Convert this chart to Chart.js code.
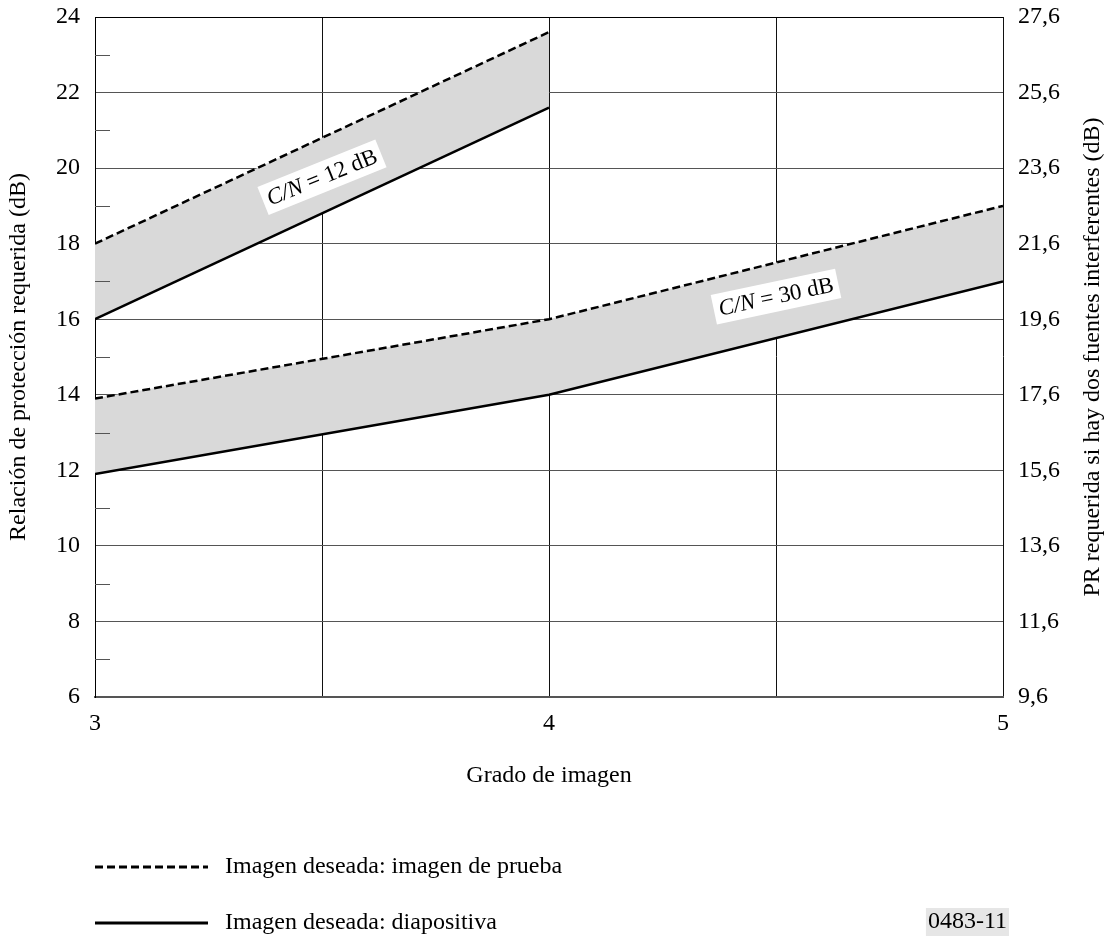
<!DOCTYPE html>
<html>
<head>
<meta charset="utf-8">
<script src="https://cdn.jsdelivr.net/npm/chart.js@4/dist/chart.umd.min.js"></script>
<style>
  html, body { margin: 0; padding: 0; background: #fff; }
  canvas { display: block; }
</style>
</head>
<body>
<canvas id="c" width="1112" height="936"></canvas>
<script>
// ---- data ----
const cn12X = [3, 4];
const cn12Dashed = [18, 23.6];
const cn12Solid = [16, 21.6];
const cn30X = [3, 4, 5];
const cn30Dashed = [13.9, 16, 19];
const cn30Solid = [11.9, 14, 17];
const xTickLabels = ['3', '4', '5'];
const leftTickValues = [6, 8, 10, 12, 14, 16, 18, 20, 22, 24];
const rightTickLabels = ['9,6', '11,6', '13,6', '15,6', '17,6', '19,6', '21,6', '23,6', '25,6', '27,6'];
const minorTickValues = [7, 9, 11, 13, 15, 17, 19, 21, 23];
const legendLabels = ['Imagen deseada: imagen de prueba', 'Imagen deseada: diapositiva'];
const rightTitle = 'PR requerida si hay dos fuentes interferentes (dB)';
const bandLabels = [
  { italic: 'C/N', rest: ' = 12 dB', x: 3.5, y: 19.76, angle: -22 },
  { italic: 'C/N', rest: ' = 30 dB', x: 4.5, y: 16.6, angle: -12 }
];
const figureId = '0483-11';

const FONT = '"Liberation Serif", "Times New Roman", serif';
const toPts = (xs, ys) => xs.map((x, i) => ({ x: x, y: ys[i] }));
const DASH = [8, 4];
const LW = 2.5;
const FILL = '#d9d9d9';

const overlay = {
  id: 'overlay',
  afterDatasetsDraw(chart) {
    const ctx = chart.ctx;
    const xs = chart.scales.x, ys = chart.scales.y;
    ctx.save();
    // minor ticks
    ctx.strokeStyle = '#555';
    ctx.lineWidth = 1;
    minorTickValues.forEach(v => {
      const py = Math.round(ys.getPixelForValue(v)) + 0.5;
      ctx.beginPath();
      ctx.moveTo(xs.left, py);
      ctx.lineTo(xs.left + 15, py);
      ctx.stroke();
    });
    // band labels
    bandLabels.forEach(b => {
      const px = xs.getPixelForValue(b.x), py = ys.getPixelForValue(b.y);
      ctx.save();
      ctx.translate(px, py);
      ctx.rotate(b.angle * Math.PI / 180);
      ctx.font = 'italic 23px ' + FONT;
      const w1 = ctx.measureText(b.italic).width;
      ctx.font = '23px ' + FONT;
      const w2 = ctx.measureText(b.rest).width;
      const w = w1 + w2;
      ctx.fillStyle = '#fff';
      ctx.fillRect(-w / 2 - 5, -15, w + 10, 30);
      ctx.fillStyle = '#000';
      ctx.textBaseline = 'middle';
      ctx.textAlign = 'left';
      ctx.font = 'italic 23px ' + FONT;
      ctx.fillText(b.italic, -w / 2, 1);
      ctx.font = '23px ' + FONT;
      ctx.fillText(b.rest, -w / 2 + w1, 1);
      ctx.restore();
    });
    ctx.restore();
  },
  afterDraw(chart) {
    const ctx = chart.ctx;
    const ys = chart.scales.y;
    ctx.save();
    // right axis title (reads bottom-to-top like the left one)
    ctx.save();
    ctx.translate(1093, (ys.top + ys.bottom) / 2);
    ctx.rotate(-Math.PI / 2);
    ctx.fillStyle = '#000';
    ctx.font = '24px ' + FONT;
    ctx.textAlign = 'center';
    ctx.textBaseline = 'middle';
    ctx.fillText(rightTitle, 0, 0);
    ctx.restore();
    // legend
    const rows = [{ y: 867, dash: DASH }, { y: 923, dash: [] }];
    rows.forEach((r, i) => {
      ctx.strokeStyle = '#000';
      ctx.lineWidth = 3;
      ctx.setLineDash(r.dash);
      ctx.beginPath();
      ctx.moveTo(95, r.y);
      ctx.lineTo(208, r.y);
      ctx.stroke();
      ctx.setLineDash([]);
      ctx.fillStyle = '#000';
      ctx.font = '24px ' + FONT;
      ctx.textBaseline = 'middle';
      ctx.textAlign = 'left';
      ctx.fillText(legendLabels[i], 225, r.y);
    });
    // figure id
    ctx.font = '24px ' + FONT;
    const wid = ctx.measureText(figureId).width;
    ctx.fillStyle = '#e6e6e6';
    ctx.fillRect(1007 - wid - 2, 908, wid + 4, 28);
    ctx.fillStyle = '#000';
    ctx.textAlign = 'right';
    ctx.textBaseline = 'middle';
    ctx.fillText(figureId, 1007, 922);
    ctx.restore();
  }
};

new Chart(document.getElementById('c'), {
  type: 'line',
  data: {
    datasets: [
      { data: toPts(cn12X, cn12Dashed), borderColor: '#000', borderWidth: LW, borderDash: DASH, fill: '+1', backgroundColor: FILL, pointRadius: 0, tension: 0 },
      { data: toPts(cn12X, cn12Solid), borderColor: '#000', borderWidth: LW, fill: false, pointRadius: 0, tension: 0 },
      { data: toPts(cn30X, cn30Dashed), borderColor: '#000', borderWidth: LW, borderDash: DASH, fill: '+1', backgroundColor: FILL, pointRadius: 0, tension: 0 },
      { data: toPts(cn30X, cn30Solid), borderColor: '#000', borderWidth: LW, fill: false, pointRadius: 0, tension: 0 }
    ]
  },
  options: {
    responsive: false,
    animation: false,
    devicePixelRatio: 1,
    layout: { padding: { left: 0, right: 0, top: 17, bottom: 134 } },
    plugins: {
      legend: { display: false },
      tooltip: { enabled: false },
      filler: { drawTime: 'beforeDatasetsDraw' }
    },
    scales: {
      x: {
        type: 'linear', min: 3, max: 5,
        afterFit: s => { s.height = 105; s.paddingLeft = 0; s.paddingRight = 0; },
        grid: { color: '#111', lineWidth: 1, drawTicks: false },
        border: { color: '#555', width: 2 },
        ticks: {
          stepSize: 0.5, padding: 12, color: '#000',
          font: { family: FONT, size: 24 },
          callback: v => {
            const i = xTickLabels.indexOf(String(v));
            return i >= 0 ? xTickLabels[i] : '';
          }
        },
        title: { display: true, text: 'Grado de imagen', color: '#000', font: { family: FONT, size: 24 }, padding: { top: 0, bottom: 12 } }
      },
      y: {
        position: 'left', min: 6, max: 24,
        afterFit: s => { s.width = 95; s.paddingTop = 0; s.paddingBottom = 0; },
        afterBuildTicks: s => { s.ticks = leftTickValues.map(v => ({ value: v })); },
        grid: { color: ctx => (ctx.tick && ctx.tick.value === 24 ? '#000' : '#555'), lineWidth: 1, drawTicks: false },
        border: { color: '#000', width: 1 },
        ticks: { padding: 15, color: '#000', font: { family: FONT, size: 24 } },
        title: { display: true, text: 'Relación de protección requerida (dB)', color: '#000', font: { family: FONT, size: 24 }, padding: { top: 4, bottom: 0 } }
      },
      y2: {
        position: 'right', min: 6, max: 24,
        afterFit: s => { s.width = 109; s.paddingTop = 0; s.paddingBottom = 0; },
        afterBuildTicks: s => { s.ticks = leftTickValues.map(v => ({ value: v })); },
        grid: { display: false, drawTicks: false },
        border: { display: false },
        ticks: {
          padding: 15, color: '#000', font: { family: FONT, size: 24 },
          callback: (v, i) => rightTickLabels[i]
        },
        title: { display: false }
      }
    }
  },
  plugins: [overlay]
});
</script>
</body>
</html>
